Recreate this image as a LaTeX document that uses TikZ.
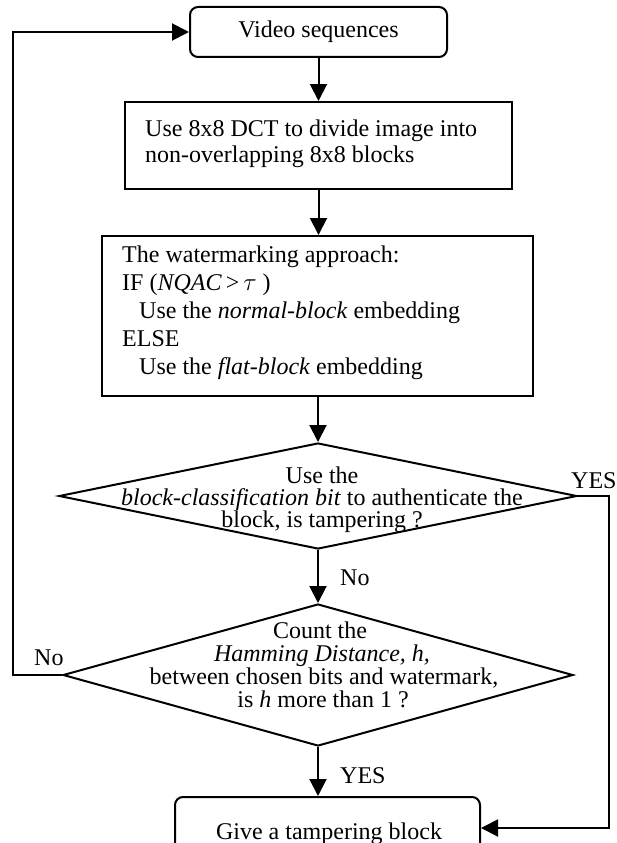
\documentclass[tikz,border=0pt]{standalone}
\usepackage{fontspec}
\setmainfont{Liberation Serif}
\usetikzlibrary{shapes.geometric,arrows.meta,calc}

\begin{document}
\begin{tikzpicture}[x=1pt,y=-1pt,
  every node/.style={font=\fontsize{24}{27}\selectfont, inner sep=0pt},
  arr/.style={line width=2pt, -{Triangle[length=17pt,width=17pt]}},
  box/.style={draw, line width=2pt, rectangle},
  rbox/.style={box, rounded corners=8pt},
  dmd/.style={draw, line width=2pt, diamond},
  lab/.style={anchor=base west},
  ctr/.style={anchor=base}]

\useasboundingbox (0,0) rectangle (617,843);
\clip (0,0) rectangle (617,843);

% start
\node[rbox, minimum width=257pt, minimum height=50pt] (vid) at (318.5,32) {Video sequences};

% DCT block split
\node[box, minimum width=387pt, minimum height=87pt] (dct) at (318.5,145.5) {};
\node[lab] (dct1) at (145,136) {Use 8x8 DCT to divide image into};
\node[lab] (dct2) at (145,162) {non-overlapping 8x8 blocks};

% embedding rule
\node[box, minimum width=431pt, minimum height=160pt] (wm) at (317.5,316) {};
\node[lab] (wm1) at (122,262) {The watermarking approach:};
\node[lab] (wm2) at (122,290) {IF (\textit{NQAC}\,>\,$\tau$\ )};
\node[lab] (wm3) at (139,318) {Use the \textit{normal-block} embedding};
\node[lab] (wm4) at (122,346) {ELSE};
\node[lab] (wm5) at (139,374) {Use the \textit{flat-block} embedding};

% first decision
\node[dmd, minimum width=518pt, minimum height=106pt] (auth) at (318,496) {};
\node[ctr] (a1) at (322,483) {Use the};
\node[ctr] (a2) at (322,505) {\textit{block-classification bit} to authenticate the};
\node[ctr] (a3) at (322,527) {block, is tampering ?};

% second decision
\node[dmd, minimum width=510pt, minimum height=142pt] (ham) at (318,675) {};
\node[ctr] (h1) at (320,638) {Count the};
\node[ctr] (h2) at (322,661) {\textit{Hamming Distance, h,}};
\node[ctr] (h3) at (324,684) {between chosen bits and watermark,};
\node[ctr] (h4) at (323,707) {is \textit{h} more than 1 ?};

% result (runs past the lower edge)
\node[rbox, minimum width=305pt, minimum height=62pt] (give) at (327.5,828) {};
\node[ctr] (givet) at (329,839) {Give a tampering block};

% flow
\draw[arr] (vid.south) -- (vid.south |- dct.north);
\draw[arr] (dct.south) -- (dct.south |- wm.north);
\draw[arr] (auth.north |- wm.south) -- (auth.north);
\draw[arr] (auth.south) -- (ham.north);
\draw[arr] (ham.south) -- (ham.south |- give.north);

\coordinate (rr) at (609,496);
\draw[arr] (auth.east) -- (rr) |- (give.east);
\coordinate (ll) at (13,675);
\draw[arr] (ham.west) -- (ll) |- (vid.west);

% branch labels
\node[lab] (no1) at (340,585) {No};
\node[lab] (yes1) at (340,783) {YES};
\node[lab] (yes2) at (571,488) {YES};
\node[lab] (no2) at (34,665) {No};
\end{tikzpicture}
\end{document}
